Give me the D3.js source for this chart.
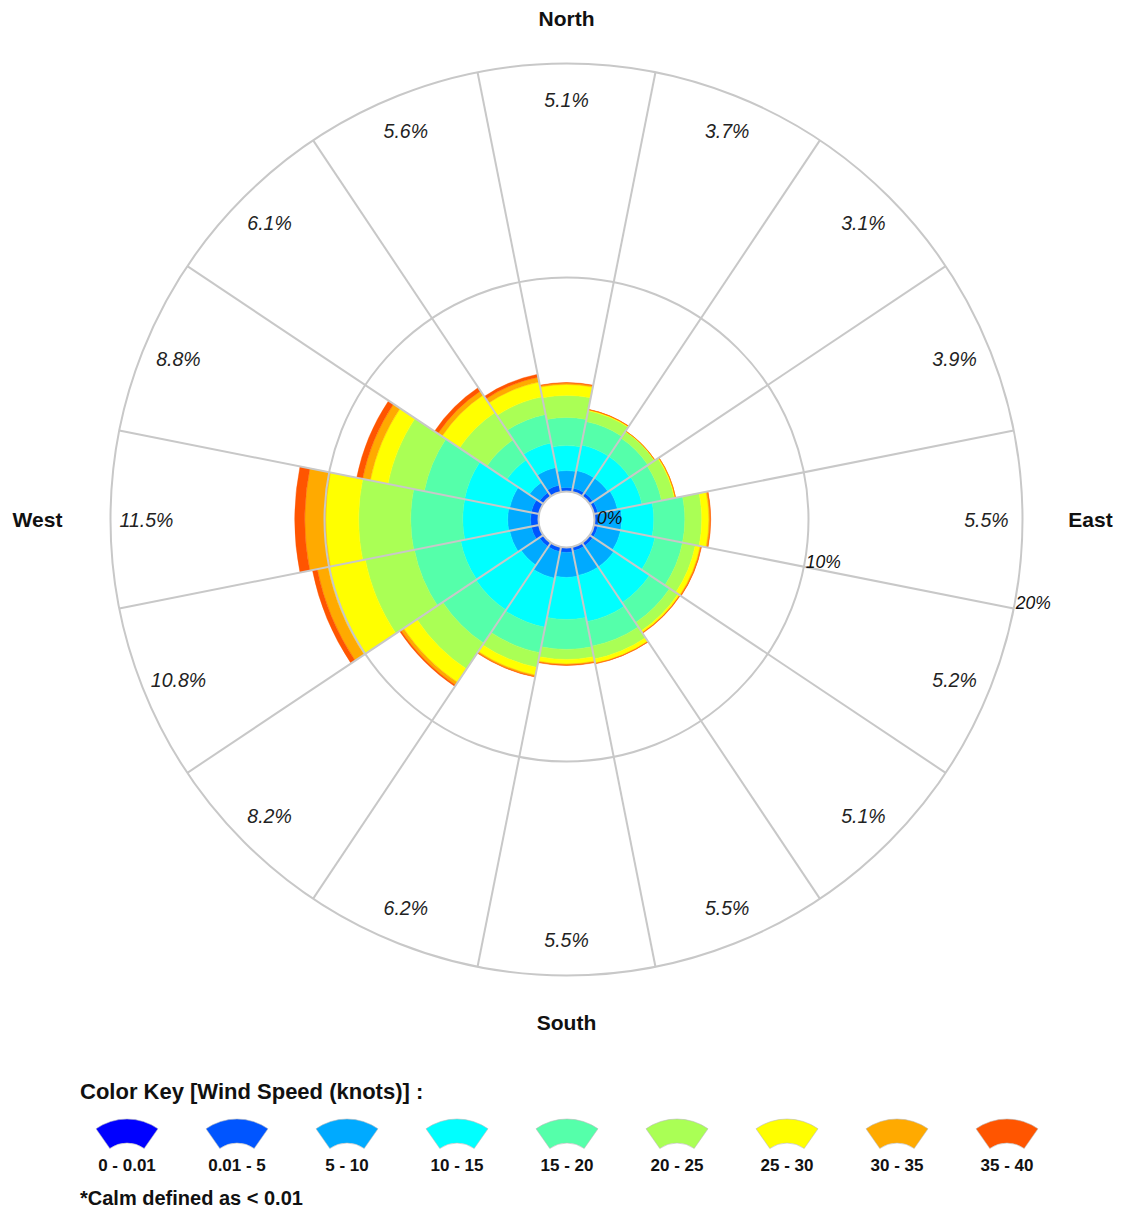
<!DOCTYPE html>
<html><head><meta charset="utf-8">
<script src="https://cdn.jsdelivr.net/npm/d3@7/dist/d3.min.js"></script>
<style>
body{margin:0;background:#fff}
svg{display:block}
text{font-family:"Liberation Sans",Arial,Helvetica,sans-serif}
</style>
</head><body>
<svg id="chart" width="1122" height="1209"></svg>
<script>
// ---- data ----
const directions = ["N","NNE","NE","ENE","E","ESE","SE","SSE","S","SSW","SW","WSW","W","WNW","NW","NNW"];
const directionTitles = {N:"North", E:"East", S:"South", W:"West"};
const totalLabels = [5.1, 3.7, 3.1, 3.9, 5.5, 5.2, 5.1, 5.5, 5.5, 6.2, 8.2, 10.8, 11.5, 8.8, 6.1, 5.6];
const speedBins = ["0 - 0.01","0.01 - 5","5 - 10","10 - 15","15 - 20","20 - 25","25 - 30","30 - 35","35 - 40"];
const binColors = ["#0000FF","#0055FF","#00AAFF","#00FFFF","#55FFAA","#AAFF55","#FFFF00","#FFAA00","#FF5500"];
// percent of time per direction, one array per speed bin (order of directions above)
const s0_001  = [0,0,0,0,0,0,0,0,0,0,0,0,0,0,0,0];
const s001_5  = [0.19,0.19,0.19,0.19,0.19,0.19,0.19,0.19,0.23,0.23,0.23,0.37,0.37,0.37,0.23,0.33];
const s5_10   = [0.79,0.84,0.84,0.93,1.08,1.08,1.17,1.17,1.17,1.26,1.03,1.03,1.07,1.03,0.56,0.84];
const s10_15  = [1.17,1.21,1.21,1.17,1.50,1.64,2.01,2.20,1.96,2.34,2.52,2.34,2.10,2.15,1.26,1.17];
const s15_20  = [1.31,1.12,1.03,0.93,1.45,1.31,1.12,1.17,1.40,1.21,1.87,2.20,2.43,1.92,1.12,1.36];
const s20_25  = [1.03,0.51,0.37,0.61,0.79,0.61,0.47,0.61,0.47,0.70,1.45,2.34,2.43,1.73,1.54,0.84];
const s25_30  = [0.51,0.05,0.02,0.05,0.33,0.23,0.09,0.19,0.21,0.37,0.75,1.78,1.54,0.84,0.98,0.70];
const s30_35  = [0.07,0.01,0.01,0.01,0.07,0.05,0.02,0.03,0.05,0.07,0.16,0.51,0.98,0.37,0.23,0.23];
const s35_40  = [0.02,0.01,0.00,0.00,0.02,0.02,0.02,0.01,0.02,0.02,0.07,0.23,0.47,0.28,0.19,0.14];
const seriesValues = [s0_001,s001_5,s5_10,s10_15,s15_20,s20_25,s25_30,s30_35,s35_40];
const ringTicks = [0, 10, 20];
const noteText = "*Calm defined as < 0.01";
const keyTitle = "Color Key [Wind Speed (knots)] :";

// ---- layout ----
const cx = 566.5, cy = 519.5;
const svg = d3.select("#chart");
const g = svg.append("g").attr("transform", `translate(${cx},${cy})`);

const rScale = d3.scaleLinear().domain([0, 20]).range([28, 456]);
const aScale = d3.scaleBand().domain(directions)
  .range([-Math.PI/16, 2*Math.PI - Math.PI/16]).padding(0);

const table = directions.map((d, i) => {
  const row = {dir: d};
  speedBins.forEach((b, j) => row[b] = seriesValues[j][i]);
  return row;
});
const stack = d3.stack().keys(speedBins)(table);
const color = d3.scaleOrdinal().domain(speedBins).range(binColors);

const arc = d3.arc();

// bars
stack.forEach(layer => {
  g.append("g").selectAll("path").data(layer).join("path")
    .attr("d", d => arc({
      innerRadius: rScale(d[0]), outerRadius: rScale(d[1]),
      startAngle: aScale(d.data.dir), endAngle: aScale(d.data.dir) + aScale.bandwidth()
    }))
    .attr("fill", color(layer.key))
    .attr("stroke", color(layer.key)).attr("stroke-width", 0.4);
});

const gridColor = "#c8c8c8";
// grid circles
g.append("g").selectAll("circle").data(ringTicks.slice(1)).join("circle")
  .attr("r", d => rScale(d)).attr("fill", "none")
  .attr("stroke", gridColor).attr("stroke-width", 2);

// radial lines at sector boundaries
g.append("g").selectAll("line").data(directions).join("line")
  .attr("x1", d => rScale(0) * Math.sin(aScale(d)))
  .attr("y1", d => -rScale(0) * Math.cos(aScale(d)))
  .attr("x2", d => rScale(20) * Math.sin(aScale(d)))
  .attr("y2", d => -rScale(20) * Math.cos(aScale(d)))
  .attr("stroke", gridColor).attr("stroke-width", 2);

// hole
g.append("circle").attr("r", rScale(0)).attr("fill", "#fff")
  .attr("stroke", gridColor).attr("stroke-width", 2);

// ring tick labels along the E/ESE boundary
const tickAngle = aScale("ESE");
g.append("g").selectAll("text").data(ringTicks).join("text")
  .attr("x", d => rScale(d) * Math.sin(tickAngle) + (d === 0 ? 3 : 2))
  .attr("y", d => -rScale(d) * Math.cos(tickAngle) + (d === 0 ? -1 : 1))
  .attr("font-size", 17.5).attr("font-style", "italic").attr("fill", "#111")
  .text(d => d + "%");

// percent labels per sector
const mid = d => aScale(d) + aScale.bandwidth()/2;
g.append("g").selectAll("text").data(directions).join("text")
  .attr("x", d => 420 * Math.sin(mid(d)))
  .attr("y", d => -420 * Math.cos(mid(d)))
  .attr("text-anchor", "middle").attr("dominant-baseline", "central")
  .attr("font-size", 19.5).attr("font-style", "italic").attr("fill", "#222")
  .text((d, i) => totalLabels[i].toFixed(1) + "%");

// compass titles
const titleR = {N: 501, S: 502.5, E: 524, W: 529};
const cardinal = directions.filter(d => directionTitles[d]);
g.append("g").selectAll("text").data(cardinal).join("text")
  .attr("x", d => titleR[d] * Math.sin(mid(d)))
  .attr("y", d => -titleR[d] * Math.cos(mid(d)))
  .attr("text-anchor", "middle").attr("dominant-baseline", "central")
  .attr("font-size", 21).attr("font-weight", "bold").attr("fill", "#111")
  .text(d => directionTitles[d]);

// legend
const leg = svg.append("g");
leg.append("text").attr("x", 80).attr("y", 1099)
  .attr("font-size", 22).attr("font-weight", "bold").attr("fill", "#111")
  .text(keyTitle);
const lx = d3.scalePoint().domain(speedBins).range([127, 1007]);
const swatchArc = d3.arc().innerRadius(30).outerRadius(54)
  .startAngle(-35 * Math.PI / 180).endAngle(35 * Math.PI / 180);
const items = leg.selectAll("g.item").data(speedBins).join("g").attr("class", "item")
  .attr("transform", d => `translate(${lx(d)},1173)`);
items.append("path").attr("d", swatchArc())
  .attr("fill", d => color(d)).attr("stroke", "#bbb").attr("stroke-width", 0.6);
items.append("text").attr("y", -2).attr("text-anchor", "middle")
  .attr("font-size", 17).attr("font-weight", "bold").attr("fill", "#111")
  .text(d => d);
leg.append("text").attr("x", 80).attr("y", 1205)
  .attr("font-size", 20).attr("font-weight", "bold").attr("fill", "#111")
  .text(noteText);
</script>
</body></html>
